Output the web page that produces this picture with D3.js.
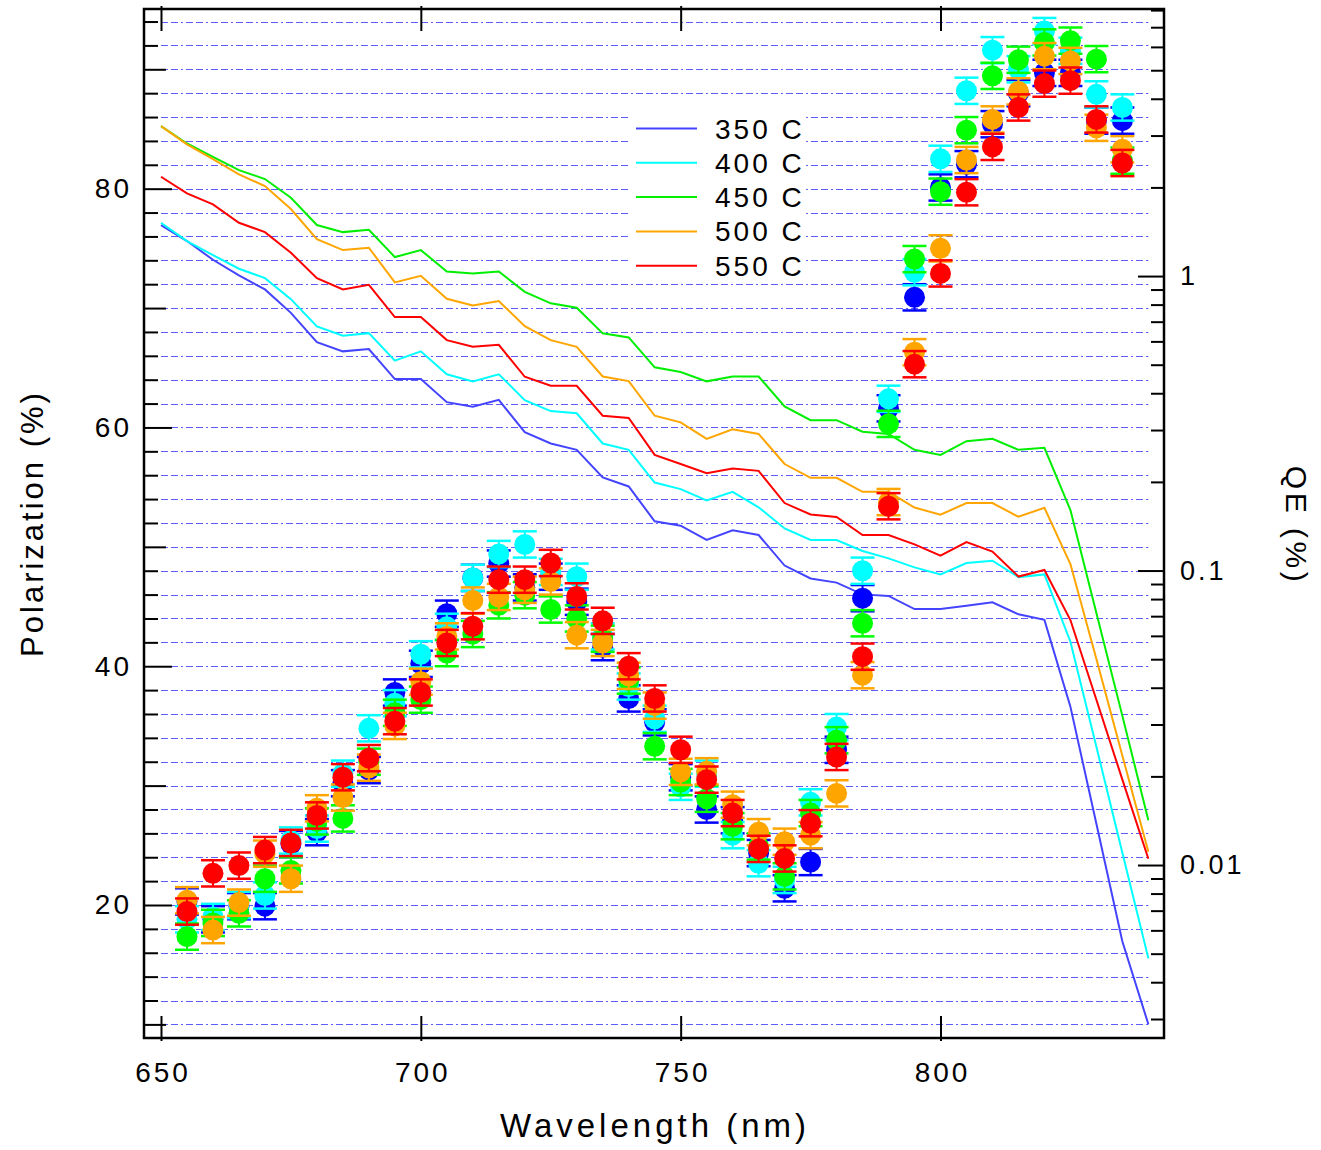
<!DOCTYPE html>
<html>
<head>
<meta charset="utf-8">
<script src="https://cdn.jsdelivr.net/npm/d3@7"></script>
<style>
    body { margin: 0; background: #fff; }
    text { font-family: "Liberation Sans", Arial, sans-serif; fill: #000; }
</style>
</head>
<body>
<div id="chart"></div>
<script>
// QE curves (right axis, %), one point every 5 nm
const qeWavelengths = [650, 655, 660, 665, 670, 675, 680, 685, 690, 695, 700, 705, 710, 715, 720, 725, 730, 735, 740, 745,
    750, 755, 760, 765, 770, 775, 780, 785, 790, 795, 800, 805, 810, 815, 820, 825, 830, 835, 840];
const qe350 = [1.49, 1.315, 1.136, 1.005, 0.901, 0.750, 0.596, 0.555, 0.565, 0.447, 0.447, 0.373, 0.360, 0.380, 0.295, 0.270, 0.257, 0.207, 0.193, 0.147,
    0.142, 0.127, 0.137, 0.132, 0.104, 0.094, 0.091, 0.083, 0.082, 0.074, 0.074, 0.076, 0.078, 0.071, 0.068, 0.0345, 0.0138, 0.0055, 0.00288];
const qe400 = [1.517, 1.315, 1.178, 1.059, 0.984, 0.835, 0.675, 0.627, 0.640, 0.516, 0.555, 0.464, 0.439, 0.464, 0.379, 0.348, 0.342, 0.270, 0.257, 0.199,
    0.189, 0.173, 0.185, 0.164, 0.139, 0.127, 0.127, 0.1165, 0.110, 0.1025, 0.097, 0.106, 0.108, 0.095, 0.097, 0.0573, 0.0252, 0.011, 0.00482];
const qe450 = [3.23, 2.82, 2.54, 2.29, 2.135, 1.845, 1.49, 1.41, 1.436, 1.16, 1.225, 1.037, 1.021, 1.037, 0.884, 0.808, 0.781, 0.639, 0.619, 0.490,
    0.472, 0.439, 0.456, 0.456, 0.361, 0.324, 0.324, 0.296, 0.291, 0.257, 0.247, 0.275, 0.280, 0.257, 0.261, 0.1605, 0.0717, 0.0321, 0.0142];
const qe500 = [3.23, 2.80, 2.497, 2.214, 2.021, 1.689, 1.335, 1.225, 1.248, 0.952, 1.002, 0.837, 0.795, 0.823, 0.676, 0.606, 0.575, 0.456, 0.440, 0.3355,
    0.3186, 0.280, 0.302, 0.291, 0.230, 0.2065, 0.2065, 0.185, 0.185, 0.1636, 0.1547, 0.1695, 0.1695, 0.1523, 0.1633, 0.1052, 0.0501, 0.0235, 0.0111];
const qe550 = [2.174, 1.909, 1.752, 1.517, 1.41, 1.20, 0.984, 0.901, 0.934, 0.726, 0.726, 0.606, 0.575, 0.584, 0.455, 0.424, 0.424, 0.3355, 0.3296, 0.247,
    0.230, 0.214, 0.222, 0.218, 0.1695, 0.155, 0.152, 0.132, 0.132, 0.1227, 0.1123, 0.125, 0.116, 0.0954, 0.1004, 0.0679, 0.0364, 0.0195, 0.0105];

// polarization points (left axis, %)
const polWavelengths = [655, 660, 665, 670, 675, 680, 685, 690, 695, 700, 705, 710, 715, 720, 725, 730, 735, 740, 745,
    750, 755, 760, 765, 770, 775, 780, 785, 790, 795, 800, 805, 810, 815, 820, 825, 830, 835];
const pol350 = [20.3, 18.8, 19.9, 19.9, 25.1, 26.1, 30.2, 31.3, 37.8, 40.2, 44.4, 47.4, 48.6, 46.6, 47.5, 45.4, 41.6, 37.3, 35.3,
    30.7, 28.0, 27.1, 24.35, 21.4, 23.6, 33.0, 45.7, 61.6, 70.9, 80.1, 82.05, 85.4, 88.0, 89.7, 89.7, 85.7, 85.7];
const pol400 = [18.8, 19.0, 20.0, 20.8, 25.4, 26.4, 31.0, 34.8, 36.9, 41.0, 43.3, 47.4, 49.4, 50.2, 47.9, 47.5, 42.5, 38.3, 35.6,
    29.9, 31.0, 25.85, 23.5, 22.1, 28.6, 34.9, 48.0, 62.4, 73.0, 82.5, 88.2, 91.6, 90.0, 93.2, 91.55, 87.9, 86.8];
const pol450 = [17.35, 18.5, 19.3, 22.2, 22.9, 27.0, 27.25, 32.0, 36.1, 37.2, 41.1, 42.7, 45.1, 45.95, 44.75, 44.0, 42.3, 38.8, 33.3,
    30.3, 28.9, 26.6, 24.9, 22.4, 27.7, 33.8, 43.6, 60.3, 74.1, 79.75, 84.9, 89.45, 90.8, 92.25, 92.4, 90.85, 82.35];
const pol500 = [20.4, 17.9, 20.2, 24.3, 22.2, 28.1, 29.0, 31.5, 35.0, 38.7, 42.5, 45.5, 45.8, 46.4, 47.1, 42.6, 41.95, 39.2, 36.7,
    31.15, 31.2, 28.4, 26.1, 25.3, 25.85, 29.35, 39.25, 53.75, 66.3, 75.0, 82.4, 85.8, 88.15, 91.1, 90.7, 85.1, 83.3];
const pol550 = [19.45, 22.65, 23.3, 24.6, 25.2, 27.5, 30.7, 32.3, 35.4, 37.8, 41.95, 43.35, 47.25, 47.25, 48.65, 45.85, 43.8, 40.0, 37.3,
    33.0, 30.5, 27.7, 24.7, 23.9, 26.85, 32.4, 40.8, 53.4, 65.3, 72.9, 79.7, 83.5, 86.8, 88.8, 89.05, 85.8, 82.15];
const polErr = 1.1;

const seriesNames = ['350 C', '400 C', '450 C', '500 C', '550 C'];
const xTicks = [650, 700, 750, 800];
const leftTicks = [20, 40, 60, 80];
const rightTicks = [0.01, 0.1, 1];


class PolQEChart {

    constructor(opts) {
        this.element = opts.element;
        this.series = opts.series;
        this.draw();
    }

    draw() {
        this.width = 1321;
        this.height = 1150;
        this.frame = {left: 144, right: 1164, top: 9, bottom: 1038};

        const svg = d3.select(this.element).append('svg')
            .attr('width', this.width)
            .attr('height', this.height);
        this.svg = svg;

        this.createScales();
        this.addGrid();
        this.addLines();
        this.addPoints();
        this.addLegend();
        this.addAxes();
    }

    createScales() {
        const f = this.frame;
        this.xScale = d3.scaleLinear()
            .domain([646.73, 843.01])
            .range([f.left, f.right]);

        this.yLeft = d3.scaleLinear()
            .domain([8.86, 95.05])
            .range([f.bottom, f.top]);

        this.yRight = d3.scaleLog()
            .domain([0.002586, 8.07])
            .range([f.bottom, f.top]);
    }

    addGrid() {
        const gridAxis = d3.axisRight(this.yLeft)
            .tickValues(d3.range(10, 95, 2))
            .tickSize(this.xScale(840) - this.xScale(650))
            .tickFormat('');

        const g = this.svg.append('g')
            .attr('transform', `translate(${this.xScale(650)},0)`)
            .call(gridAxis);
        g.select('.domain').remove();
        // keep each grid line on a single pixel row
        g.selectAll('.tick')
            .attr('transform', d => `translate(0,${Math.round(this.yLeft(d)) + 0.5})`);
        g.selectAll('.tick line')
            .attr('stroke', '#5c5cff')
            .attr('stroke-width', 1)
            .attr('stroke-dasharray', '7,3,7,3,2,3');
    }

    addLines() {
        const line = d3.line()
            .x((d, i) => this.xScale(qeWavelengths[i]))
            .y(d => this.yRight(d));

        this.svg.append('g').selectAll('path')
            .data(this.series)
            .enter()
            .append('path')
            .attr('d', s => line(s.qe))
            .attr('fill', 'none')
            .attr('stroke', s => s.lineColor)
            .attr('stroke-width', 2);
    }

    addPoints() {
        const groups = this.svg.append('g').selectAll('.series')
            .data(this.series)
            .enter()
            .append('g')
            .classed('series', true);

        const pts = groups.selectAll('.pt')
            .data(s => s.pol.map((v, i) => ({x: polWavelengths[i], y: v, color: s.dotColor})))
            .enter()
            .append('g')
            .classed('pt', true);

        const capW = 12;
        pts.append('line')
            .attr('x1', d => this.xScale(d.x))
            .attr('x2', d => this.xScale(d.x))
            .attr('y1', d => this.yLeft(d.y - polErr))
            .attr('y2', d => this.yLeft(d.y + polErr))
            .attr('stroke', d => d.color)
            .attr('stroke-width', 2);
        [-1, 1].forEach(sign => {
            pts.append('line')
                .attr('x1', d => this.xScale(d.x) - capW)
                .attr('x2', d => this.xScale(d.x) + capW)
                .attr('y1', d => this.yLeft(d.y + sign * polErr))
                .attr('y2', d => this.yLeft(d.y + sign * polErr))
                .attr('stroke', d => d.color)
                .attr('stroke-width', 2.5);
        });
        pts.append('circle')
            .attr('cx', d => this.xScale(d.x))
            .attr('cy', d => this.yLeft(d.y))
            .attr('r', 10.5)
            .attr('fill', d => d.color);
    }

    addLegend() {
        const legend = this.svg.append('g');
        legend.append('rect')
            .attr('x', 628)
            .attr('y', 110)
            .attr('width', 178)
            .attr('height', 172)
            .attr('fill', '#fff');

        const rows = legend.selectAll('.row')
            .data(this.series)
            .enter()
            .append('g')
            .attr('transform', (d, i) => `translate(0,${128.5 + i * 34.3})`);
        rows.append('line')
            .attr('x1', 636)
            .attr('x2', 697)
            .attr('stroke', d => d.lineColor)
            .attr('stroke-width', 2);
        rows.append('text')
            .attr('x', 715)
            .attr('dy', '0.36em')
            .attr('font-size', 28)
            .attr('letter-spacing', 3)
            .text(d => d.name);
    }

    addAxes() {
        const f = this.frame;
        const svg = this.svg;

        const clean = g => {
            g.select('.domain').remove();
            g.selectAll('.tick line').attr('stroke', '#000').attr('stroke-width', 2);
            return g;
        };

        // left ticks
        const minorL = d3.range(10, 95, 2).filter(v => v % 10 !== 0);
        svg.append('g').attr('transform', `translate(${f.left},0)`)
            .call(d3.axisRight(this.yLeft).tickValues(minorL).tickSize(14).tickFormat('')).call(clean);
        svg.append('g').attr('transform', `translate(${f.left},0)`)
            .call(d3.axisRight(this.yLeft).tickValues([10, 30, 50, 70, 90]).tickSize(22).tickFormat('')).call(clean);
        svg.append('g').attr('transform', `translate(${f.left},0)`)
            .call(d3.axisRight(this.yLeft).tickValues(leftTicks).tickSize(28).tickFormat('')).call(clean);
        svg.append('g').attr('transform', `translate(${f.left},0)`)
            .call(d3.axisLeft(this.yLeft).tickValues(leftTicks).tickSize(0).tickPadding(12))
            .call(clean)
            .selectAll('text')
            .attr('font-size', 28)
            .attr('letter-spacing', 3)
            .attr('font-family', '"Liberation Sans", Arial, sans-serif');

        // right log ticks
        const minorR = [];
        [0.001, 0.01, 0.1, 1].forEach(dec => {
            for (let k = 2; k <= 9; k++) {
                const v = dec * k;
                if (v > 0.002586 && v < 8.07) minorR.push(v);
            }
        });
        svg.append('g').attr('transform', `translate(${f.right},0)`)
            .call(d3.axisLeft(this.yRight).tickValues(minorR).tickSize(13).tickFormat('')).call(clean);
        svg.append('g').attr('transform', `translate(${f.right},0)`)
            .call(d3.axisLeft(this.yRight).tickValues(rightTicks).tickSize(26).tickFormat('')).call(clean);
        svg.append('g').attr('transform', `translate(${f.right},0)`)
            .call(d3.axisRight(this.yRight).tickValues(rightTicks).tickSize(0).tickPadding(16).tickFormat(d3.format('~g')))
            .call(clean)
            .selectAll('text')
            .attr('font-size', 27)
            .attr('letter-spacing', 3)
            .attr('font-family', '"Liberation Sans", Arial, sans-serif');

        // bottom and top ticks
        svg.append('g').attr('transform', `translate(0,${f.bottom})`)
            .call(d3.axisTop(this.xScale).tickValues(xTicks).tickSize(22).tickFormat('')).call(clean)
            .selectAll('.tick line').attr('y1', 3);
        svg.append('g').attr('transform', `translate(0,${f.top})`)
            .call(d3.axisBottom(this.xScale).tickValues(xTicks).tickSize(22).tickFormat('')).call(clean)
            .selectAll('.tick line').attr('y1', -3);
        svg.append('g').attr('transform', `translate(0,${f.bottom})`)
            .call(d3.axisBottom(this.xScale).tickValues(xTicks).tickSize(0).tickPadding(24))
            .call(clean)
            .selectAll('text')
            .attr('font-size', 28)
            .attr('letter-spacing', 3)
            .attr('dx', 1.5)
            .attr('font-family', '"Liberation Sans", Arial, sans-serif');

        // frame
        svg.append('rect')
            .attr('x', f.left)
            .attr('y', f.top)
            .attr('width', f.right - f.left)
            .attr('height', f.bottom - f.top)
            .attr('fill', 'none')
            .attr('stroke', '#000')
            .attr('stroke-width', 2.5);

        // titles
        svg.append('text')
            .attr('transform', `translate(43,${(f.top + f.bottom) / 2}) rotate(-90)`)
            .attr('text-anchor', 'middle')
            .attr('font-size', 31)
            .attr('letter-spacing', 3)
            .text('Polarization (%)');

        svg.append('text')
            .attr('x', 655)
            .attr('y', 1137)
            .attr('text-anchor', 'middle')
            .attr('font-size', 33)
            .attr('letter-spacing', 4)
            .text('Wavelength (nm)');

        svg.append('text')
            .attr('transform', `translate(1286,${(f.top + f.bottom) / 2 + 2}) rotate(90)`)
            .attr('text-anchor', 'middle')
            .attr('font-size', 30)
            .attr('letter-spacing', 3.5)
            .text('QE (%)');
    }
}

const series = [
    {name: seriesNames[0], qe: qe350, pol: pol350, lineColor: '#4444ff', dotColor: '#0000ff'},
    {name: seriesNames[1], qe: qe400, pol: pol400, lineColor: '#00ffff', dotColor: '#00ffff'},
    {name: seriesNames[2], qe: qe450, pol: pol450, lineColor: '#00ee00', dotColor: '#00ff00'},
    {name: seriesNames[3], qe: qe500, pol: pol500, lineColor: '#ffa500', dotColor: '#ffa500'},
    {name: seriesNames[4], qe: qe550, pol: pol550, lineColor: '#ff0000', dotColor: '#ff0000'}
];

new PolQEChart({element: document.getElementById('chart'), series: series});
</script>
</body>
</html>
